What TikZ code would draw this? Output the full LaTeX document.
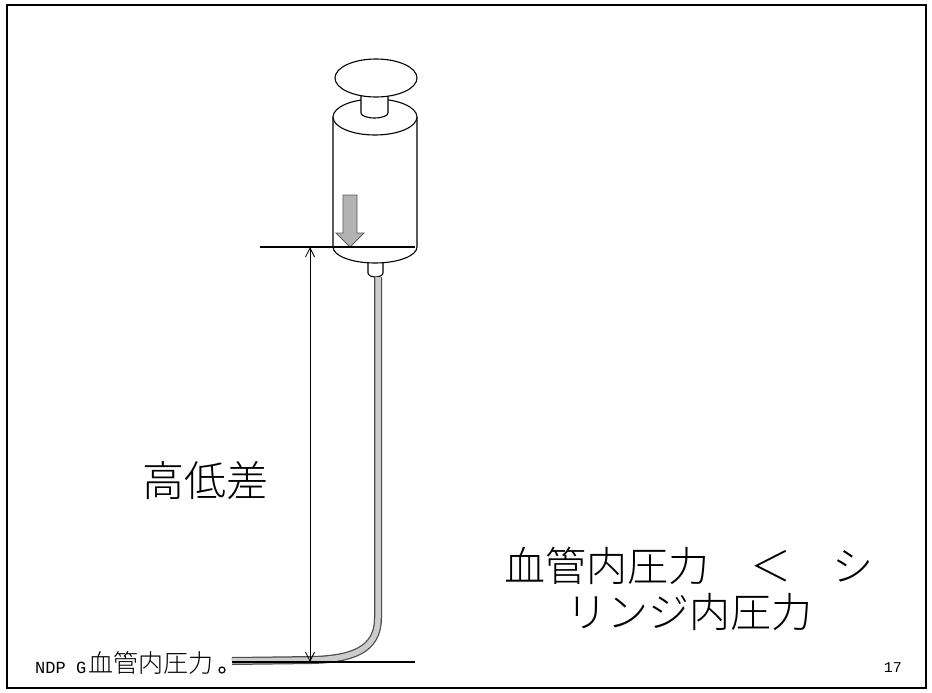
\documentclass[tikz,border=0pt]{standalone}
\usepackage{fontspec}
\setmonofont{Liberation Mono}
\newfontfamily\jpfont{Noto Sans CJK JP Light}
\usetikzlibrary{arrows.meta}

\tikzset{
  outline/.style={draw, line width=1.1pt, fill=white},
  tubeedge/.style={line width=8pt, black!70},
  tubefill/.style={line width=5.5pt, gray!40},
  dimline/.style={<->, line width=0.8pt},
  bigjp/.style={font=\jpfont\fontsize{42}{46}\selectfont, inner sep=0pt},
}

\begin{document}
\begin{tikzpicture}[x=1pt, y=-1pt, >={Straight Barb[length=9pt,width=9pt]}]
  \useasboundingbox (0,0) rectangle (932,693);
  \draw[line width=1.6pt] (7,5) rectangle (926,688);

  % nozzle, behind the barrel
  \draw[outline] (368,258) -- (368,273) arc[start angle=180, end angle=0, x radius=7.5, y radius=4] -- (383,258);

  % barrel
  \draw[outline] (333,117) -- (333,247) arc[start angle=180, end angle=0, x radius=42, y radius=16] -- (417,117);
  \draw[outline] (375,117) ellipse[x radius=42, y radius=18];
  % plunger
  \draw[outline] (361,92) -- (361,113) arc[start angle=180, end angle=0, x radius=13.5, y radius=5] -- (388,92);
  \draw[outline] (376,78) ellipse[x radius=41, y radius=19];

  % push arrow
  \draw[line width=0.9pt, draw=black!65, fill=gray!60]
    (343,195) -- (357,195) -- (357,233) -- (364,233) -- (350,247)
    -- (336,233) -- (343,233) -- cycle;

  % levels
  \coordinate (levtopL) at (260,247);
  \coordinate (levtopR) at (415,247);
  \coordinate (levbotL) at (232,662);
  \coordinate (levbotR) at (415,662);
  \coordinate (dimtop) at (310,247);
  \coordinate (dimbot) at (310,662);

  % tube
  \coordinate (tubestart) at (378,277);
  \coordinate (tubeend) at (232,661);
  \draw[tubeedge] (tubestart) -- (378,618) .. controls (378,650) and (352,659) .. (312,660) -- (tubeend);
  \draw[tubefill] (tubestart) -- (378,618) .. controls (378,650) and (352,659) .. (312,660) -- (tubeend);

  \draw[line width=1.1pt] (levtopL) -- (levtopR);
  \draw[line width=1.1pt] (levbotL) -- (levbotR);
  \draw[dimline] (dimtop) -- (dimbot);

  % labels
  \node[bigjp] (height) at (205,481) {高低差};
  \node[bigjp, align=center, font=\jpfont\fontsize{41}{46}\selectfont] (compare) at (689,589) {血管内圧力　＜　シ\\リンジ内圧力};

  \node[anchor=base west, inner sep=0pt, font=\ttfamily\fontsize{17}{17}\selectfont] (footer) at (35,673) {NDP G};
  \node[anchor=base west, inner sep=0pt, font=\jpfont\fontsize{25}{25}\selectfont] (vessel) at (88,672) {血管内圧力};
  \draw[line width=1.2pt] (222,670) circle[radius=3];
  \node[anchor=base east, inner sep=0pt, font=\ttfamily\fontsize{15}{15}\selectfont] (page) at (902,672) {17};
\end{tikzpicture}
\end{document}
